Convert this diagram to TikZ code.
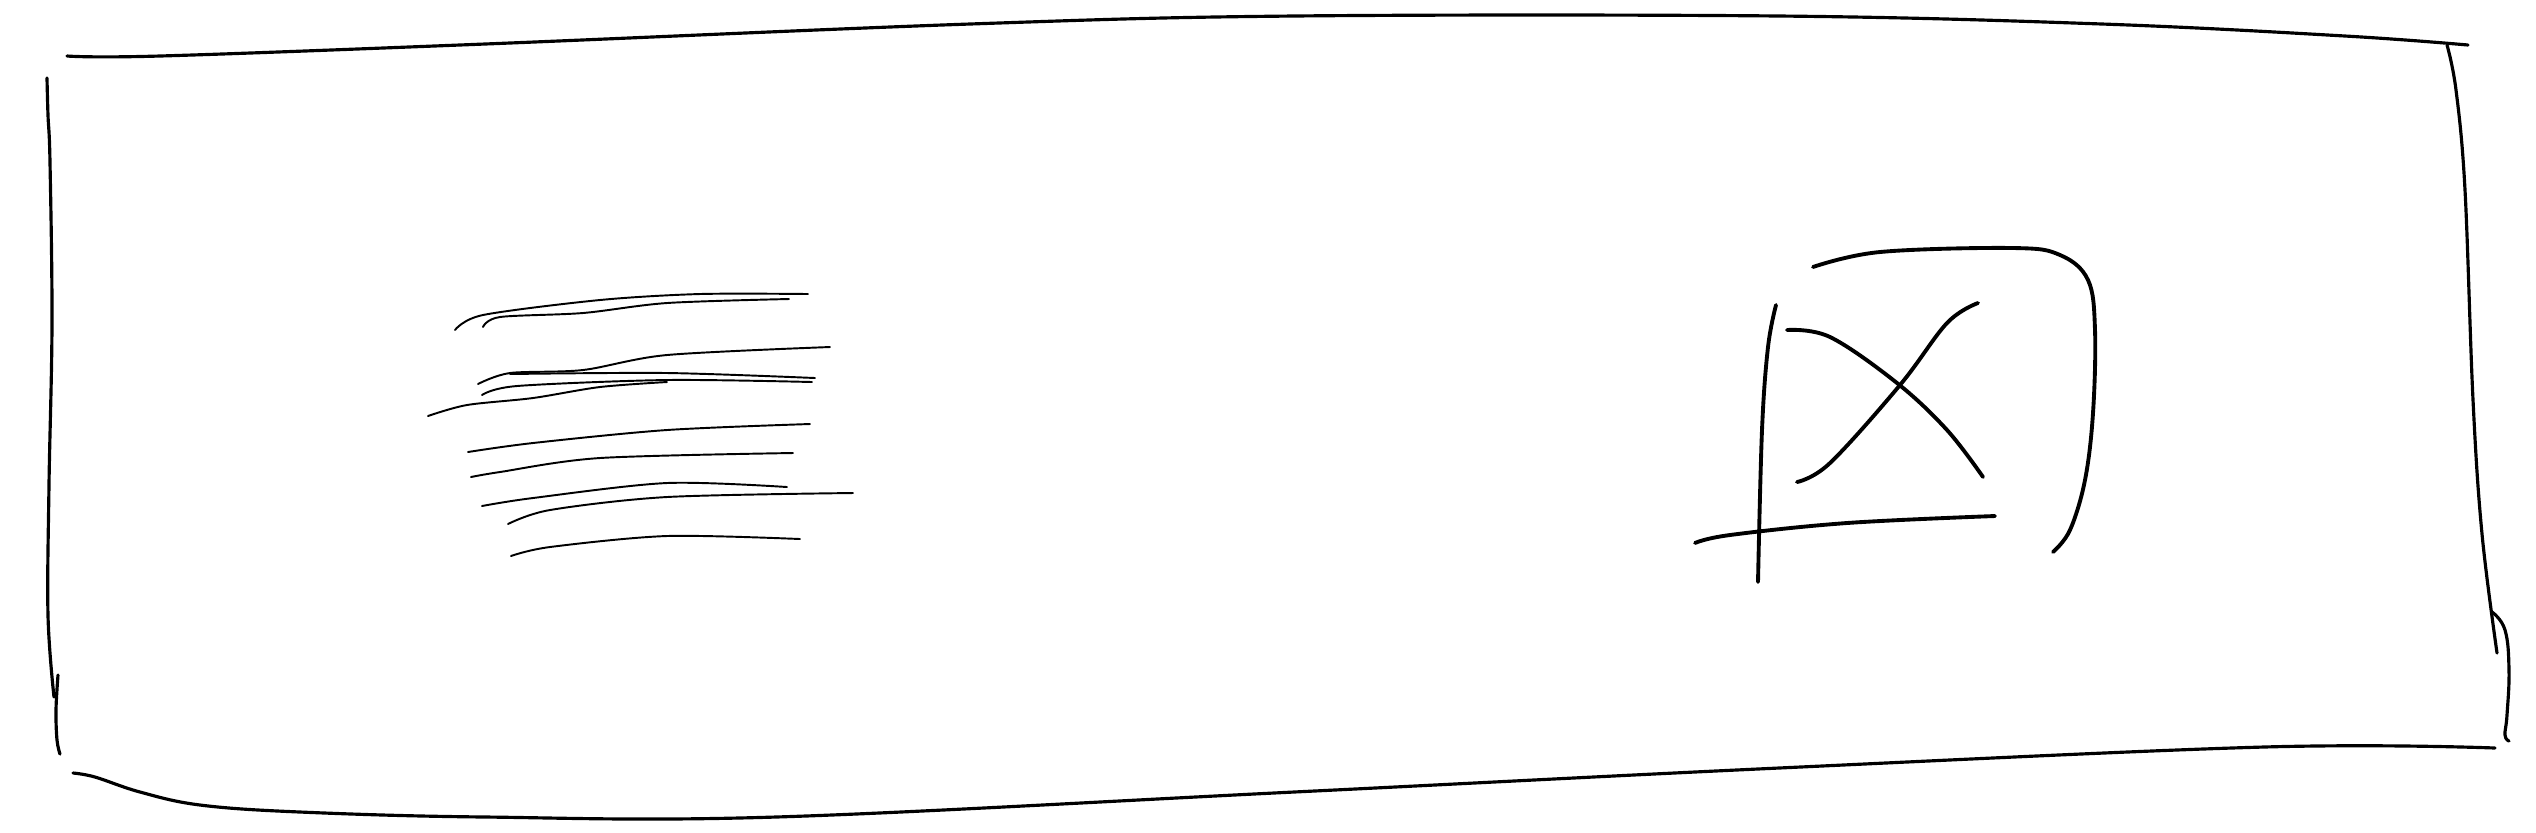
\documentclass[tikz,border=0pt]{standalone}
\usepackage{tikz}
\tikzstyle{frame}=[draw=black, line width=0.9pt, line cap=round, line join=round]
\tikzstyle{scribble}=[draw=black, line width=0.55pt, line cap=round]
\tikzstyle{picbox}=[draw=black, line width=1.1pt, line cap=round]

\begin{document}
\begin{tikzpicture}[x=0.01cm, y=-0.01cm]
				\useasboundingbox (0,0) rectangle (2536,832);
				% outer frame
				\draw [style=frame] plot [smooth, tension=0.6] coordinates {(67,56) (160,56) (485,44) (970,24) (1294,16) (1779,16) (2102,24) (2345,36) (2468,45)};
				\draw [style=frame] plot [smooth, tension=0.6] coordinates {(2447,45) (2456,90) (2465,190) (2473,400) (2482,534) (2497,653)};
				\draw [style=frame] plot [smooth, tension=0.7] coordinates {(2492,612) (2505,630) (2509,670) (2507,715) (2505,735) (2509,741)};
				\draw [style=frame] plot [smooth, tension=0.6] coordinates {(73,773) (95,777) (140,792) (200,805) (300,812) (485,817) (776,817) (1294,792) (1779,768) (2264,747) (2495,748)};
				\draw [style=frame] plot [smooth, tension=0.6] coordinates {(47,78) (48,115) (50,162) (52,323) (49,485) (48,615) (54,697)};
				\draw [style=frame] plot [smooth, tension=0.6] coordinates {(58,675) (56,710) (57,740) (60,754)};
				% text lines
				\draw [style=scribble] plot [smooth] coordinates {(455,330) (483,315) (600,300) (700,294) (808,294)};
				\draw [style=scribble] plot [smooth] coordinates {(483,327) (500,317) (583,313) (667,303) (789,299)};
				\draw [style=scribble] plot [smooth] coordinates {(478,384) (510,373) (583,370) (667,355) (830,347)};
				\draw [style=scribble] plot [smooth] coordinates {(510,374) (667,373) (815,378)};
				\draw [style=scribble] plot [smooth] coordinates {(482,395) (517,386) (667,380) (812,382)};
				\draw [style=scribble] plot [smooth] coordinates {(428,416) (467,405) (533,398) (600,387) (667,382)};
				\draw [style=scribble] plot [smooth] coordinates {(468,452) (533,443) (667,430) (810,424)};
				\draw [style=scribble] plot [smooth] coordinates {(471,477) (500,472) (600,458) (793,453)};
				\draw [style=scribble] plot [smooth] coordinates {(482,506) (533,498) (667,483) (787,487)};
				\draw [style=scribble] plot [smooth] coordinates {(508,524) (550,510) (667,497) (853,493)};
				\draw [style=scribble] plot [smooth] coordinates {(511,556) (550,547) (667,536) (800,539)};
				% picture placeholder
				\draw [style=picbox] plot [smooth, tension=0.6] coordinates {(1813,267) (1880,252) (2013,248) (2060,255) (2088,280) (2095,330) (2093,413) (2085,480) (2070,530) (2053,552)};
				\draw [style=picbox] plot [smooth, tension=0.6] coordinates {(1776,305) (1768,347) (1762,430) (1758,582)};
				\draw [style=picbox] plot [smooth, tension=0.6] coordinates {(1695,543) (1730,535) (1847,523) (1995,516)};
				\draw [style=picbox] plot [smooth, tension=0.6] coordinates {(1787,330) (1830,337) (1897,383) (1947,430) (1983,477)};
				\draw [style=picbox] plot [smooth, tension=0.6] coordinates {(1797,482) (1830,463) (1900,385) (1947,323) (1978,303)};
			\end{tikzpicture}
\end{document}
